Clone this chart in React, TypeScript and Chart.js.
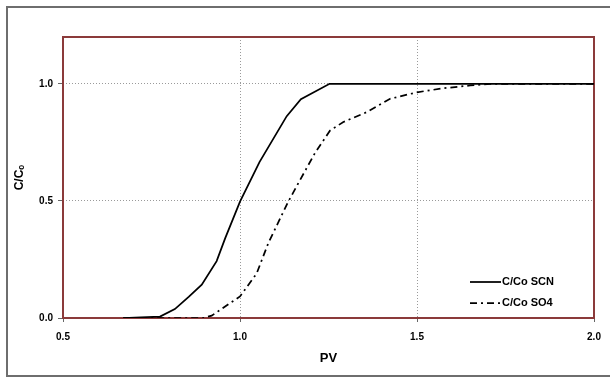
import React, { useEffect, useRef } from 'react';
import { Chart, registerables } from 'chart.js';

Chart.register(...registerables);

// ---- data ----
const scnPV = [0.67, 0.72, 0.774, 0.816, 0.855, 0.892, 0.934, 0.958, 1.0, 1.055, 1.132, 1.172, 1.253, 2.0];
const scnC = [0, 0.003, 0.006, 0.038, 0.09, 0.142, 0.243, 0.34, 0.497, 0.666, 0.862, 0.934, 1.0, 1.0];
const so4PV = [0.67, 0.896, 0.92, 1.0, 1.047, 1.08, 1.136, 1.17, 1.212, 1.254, 1.292, 1.358, 1.424, 1.5, 1.574, 1.65, 1.706, 2.0];
const so4C = [0, 0, 0.01, 0.092, 0.19, 0.32, 0.496, 0.59, 0.705, 0.8, 0.837, 0.879, 0.936, 0.964, 0.981, 0.993, 1.0, 1.0];
const seriesLabels = ['C/Co SCN', 'C/Co SO4'];
const xTicks = [0.5, 1.0, 1.5, 2.0];
const yTicks = [0, 0.5, 1.0];
const xTitle = 'PV';
const yTitle = 'C/C\u2092';

const FONT = '"Liberation Sans", Arial, "DejaVu Sans", sans-serif';

const plotBorder = {
  id: 'plotBorder',
  beforeDatasetsDraw(chart: any) {
    const { ctx, chartArea } = chart;
    ctx.save();
    ctx.strokeStyle = '#8b3a3a';
    ctx.lineWidth = 2;
    ctx.setLineDash([]);
    ctx.strokeRect(chartArea.left, chartArea.top, chartArea.right - chartArea.left, chartArea.bottom - chartArea.top);
    ctx.restore();
  },
};

const insideLegend = {
  id: 'insideLegend',
  afterDraw(chart: any) {
    const { ctx, chartArea } = chart;
    const x0 = chartArea.right - 124;
    chart.data.datasets.forEach((ds: any, i: number) => {
      const y = chartArea.bottom - 36 + i * 21;
      ctx.save();
      ctx.strokeStyle = ds.borderColor;
      ctx.lineWidth = ds.borderWidth;
      ctx.setLineDash(ds.borderDash || []);
      ctx.beginPath();
      ctx.moveTo(x0, y);
      ctx.lineTo(x0 + 31, y);
      ctx.stroke();
      ctx.setLineDash([]);
      ctx.fillStyle = '#000';
      ctx.font = `bold 11px ${FONT}`;
      ctx.textBaseline = 'middle';
      ctx.textAlign = 'left';
      ctx.fillText(ds.label, x0 + 32, y);
      ctx.restore();
    });
  },
};

export default function App() {
  const ref = useRef<HTMLCanvasElement | null>(null);

  useEffect(() => {
    if (!ref.current) return;
    const chart = new Chart(ref.current, {
      type: 'line',
      data: {
        datasets: [
          {
            label: seriesLabels[0],
            data: scnPV.map((x, i) => ({ x, y: scnC[i] })),
            borderColor: '#000',
            borderWidth: 1.75,
            pointRadius: 0,
            tension: 0,
            fill: false,
          },
          {
            label: seriesLabels[1],
            data: so4PV.map((x, i) => ({ x, y: so4C[i] })),
            borderColor: '#000',
            borderWidth: 1.75,
            borderDash: [7, 4, 2, 4],
            pointRadius: 0,
            tension: 0,
            fill: false,
          },
        ],
      },
      options: {
        animation: false,
        responsive: false,
        layout: { padding: { left: 0, top: 37, right: 16, bottom: 0 } },
        plugins: { legend: { display: false }, tooltip: { enabled: false } },
        scales: {
          x: {
            type: 'linear',
            min: 0.5,
            max: 2.0,
            afterBuildTicks: (s: any) => {
              s.ticks = xTicks.map((v) => ({ value: v }));
            },
            afterFit: (s: any) => {
              s.height = 59;
            },
            ticks: {
              callback: (v: any) => Number(v).toFixed(1),
              font: { family: FONT, size: 10, weight: 'bold' },
              color: '#000',
              padding: 9,
              maxRotation: 0,
              autoSkip: false,
            },
            grid: {
              color: (c: any) => (c.tick && c.tick.value > 0.5 && c.tick.value < 2.0 ? '#9a9a9a' : 'rgba(0,0,0,0)'),
              lineWidth: 1,
              tickColor: '#666',
              tickLength: 4,
              tickBorderDash: [],
            },
            border: { display: false, dash: [1, 2] },
            title: {
              display: true,
              text: xTitle,
              color: '#000',
              font: { family: FONT, size: 13, weight: 'bold' },
              padding: { top: 0, bottom: 11 },
            },
          },
          y: {
            type: 'linear',
            min: 0,
            max: 1.2,
            afterBuildTicks: (s: any) => {
              s.ticks = yTicks.map((v) => ({ value: v }));
            },
            afterFit: (s: any) => {
              s.width = 63;
            },
            ticks: {
              callback: (v: any) => Number(v).toFixed(1),
              font: { family: FONT, size: 10, weight: 'bold' },
              color: '#000',
              padding: 5,
            },
            grid: {
              color: (c: any) => (c.tick && c.tick.value > 0 && c.tick.value < 1.2 ? '#9a9a9a' : 'rgba(0,0,0,0)'),
              lineWidth: 1,
              tickColor: '#666',
              tickLength: 5,
              tickBorderDash: [],
            },
            border: { display: false, dash: [1, 2] },
            title: {
              display: true,
              text: yTitle,
              color: '#000',
              font: { family: FONT, size: 12, weight: 'bold' },
              padding: { top: 12, bottom: 0 },
            },
          },
        },
      },
      plugins: [plotBorder, insideLegend],
    } as any);
    return () => chart.destroy();
  }, []);

  const line = { position: 'absolute' as const, background: '#6e6e6e' };
  return (
    <div style={{ position: 'fixed', left: 0, top: 0, width: 610, height: 377, overflow: 'hidden', background: '#fff' }}>
      <div style={{ ...line, left: 6, top: 6, width: 604, height: 2 }} />
      <div style={{ ...line, left: 6, top: 6, width: 2, height: 371 }} />
      <div style={{ ...line, left: 6, top: 375, width: 604, height: 2 }} />
      <canvas ref={ref} width={610} height={377} style={{ position: 'absolute', left: 0, top: 0, width: 610, height: 377 }} />
    </div>
  );
}
